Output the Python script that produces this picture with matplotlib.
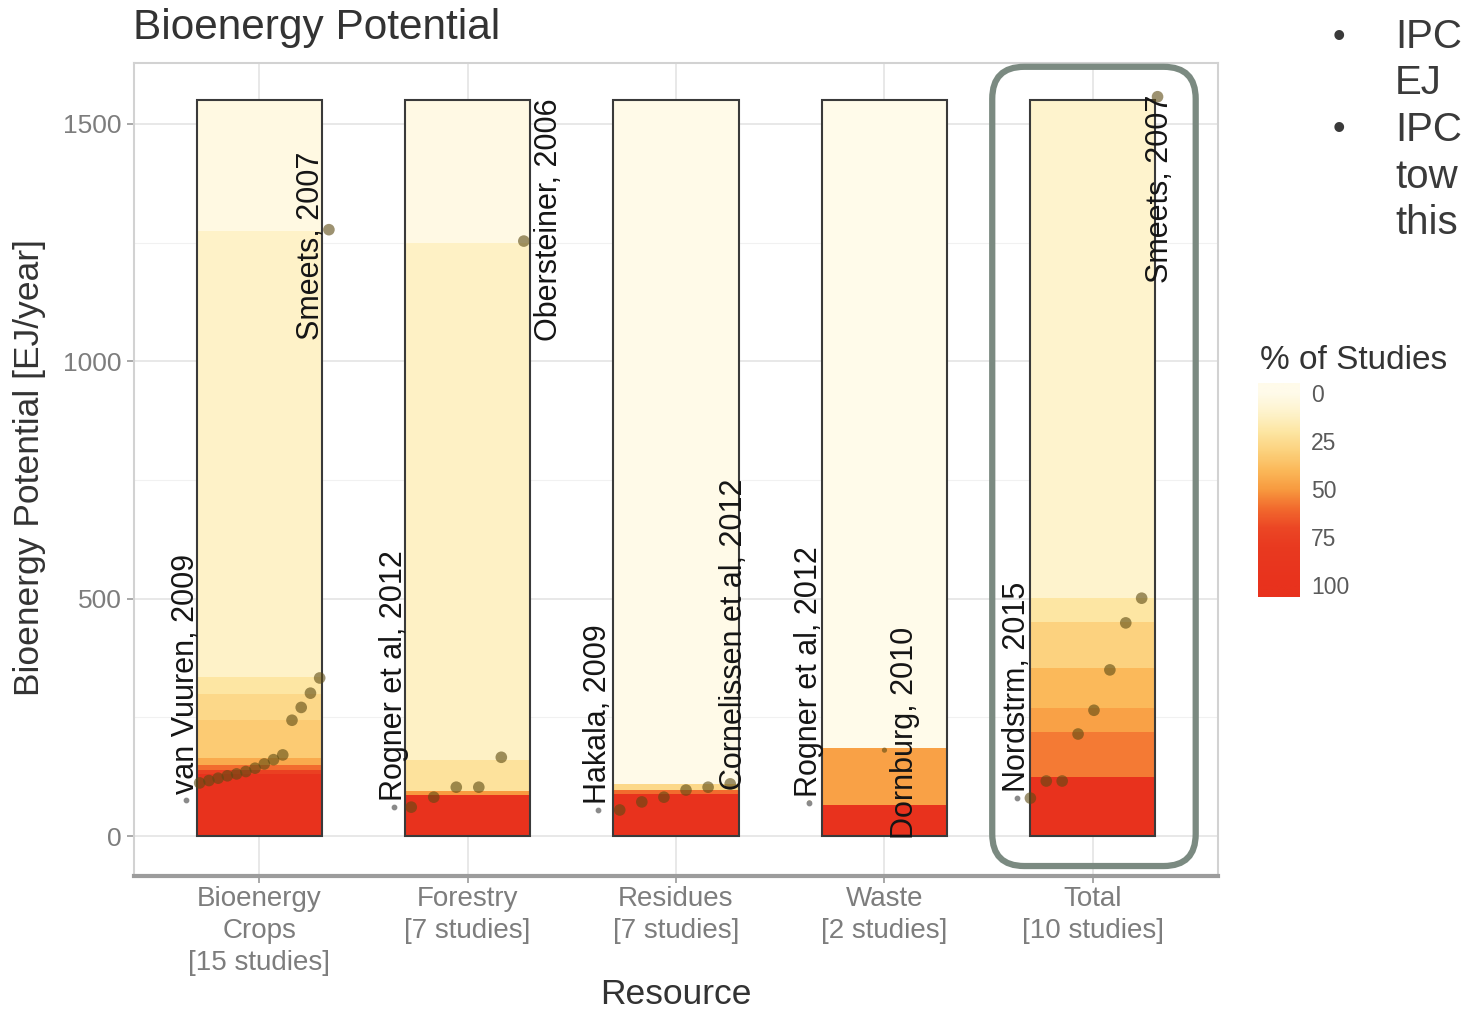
"""Bioenergy potential by resource: share-of-studies bands, study points, min/max labels."""
import matplotlib

matplotlib.use("Agg")

import matplotlib.pyplot as plt  # noqa: E402
import numpy as np  # noqa: E402
from matplotlib.colors import LinearSegmentedColormap  # noqa: E402
from matplotlib.patches import FancyBboxPatch  # noqa: E402
from matplotlib.transforms import IdentityTransform  # noqa: E402

plt.rcParams["font.family"] = ["Liberation Sans", "DejaVu Sans"]

# --- data ----------------------------------------------------------------
resources = ["Bioenergy Crops", "Forestry", "Residues", "Waste", "Total"]
tick_labels = [
    "Bioenergy\nCrops\n[15 studies]",
    "Forestry\n[7 studies]",
    "Residues\n[7 studies]",
    "Waste\n[2 studies]",
    "Total\n[10 studies]",
]

# band edges [EJ/year] and % of studies inside each band
crops_edges = [0, 130, 140, 150, 165, 245, 300, 335, 1275, 1550]
crops_pct = [100, 75, 60, 45, 33, 27, 20, 11, 3]
forestry_edges = [0, 86, 95, 160, 1250, 1550]
forestry_pct = [100, 50, 22, 12, 2]
residues_edges = [0, 88, 98, 110, 1550]
residues_pct = [100, 60, 27, 1]
waste_edges = [0, 65, 185, 1550]
waste_pct = [100, 48, 0]
total_edges = [0, 124, 219, 270, 354, 451, 501, 1550]
total_pct = [100, 57, 48, 40, 30, 20, 10]

# individual study estimates [EJ/year], sorted low -> high
crops_pts = [112, 117, 122, 127, 131, 136, 143, 152, 161, 171, 244, 271, 301, 333, 1277]
forestry_pts = [61, 82, 103, 103, 166, 1253]
residues_pts = [55, 72, 82, 97, 103, 110]
waste_pts = [70, 181]
total_pts = [80, 116, 116, 215, 265, 350, 449, 501, 1557]

min_labels = ["van Vuuren, 2009", "Rogner et al, 2012", "Hakala, 2009",
              "Rogner et al, 2012", "Nordstrm, 2015"]
max_labels = ["Smeets, 2007", "Obersteiner, 2006", "Cornelissen et al, 2012",
              "Dornburg, 2010", "Smeets, 2007"]

legend_ticks = [0, 25, 50, 75, 100]
side_lines = ["IPC", "EJ", "IPC", "tow", "this"]
side_bullets = [True, False, True, False, False]

edges_all = [crops_edges, forestry_edges, residues_edges, waste_edges, total_edges]
pct_all = [crops_pct, forestry_pct, residues_pct, waste_pct, total_pct]
pts_all = [crops_pts, forestry_pts, residues_pts, waste_pts, total_pts]

# --- layout / style ------------------------------------------------------
W, H, DPI = 1465, 1011, 100
BAR_W = 0.6
PT_SPREAD = [(-0.285, 0.335), (-0.27, 0.27), (-0.27, 0.26), (-0.36, 0.0), (-0.30, 0.31)]
PT_SIZE = [70, 70, 70, 14, 70]
# (x offset, y nudge, anchor along rotated text)
MIN_LAB = [(-0.35, -36, "left"), (-0.355, 0, "left"), (-0.375, 0, "left"),
           (-0.36, 0, "left"), (-0.365, 0, "left")]
MAX_LAB = [(0.25, -33, "center"), (0.39, 45, "center"), (0.28, -13, "left"),
           (0.10, 36, "center"), (0.32, 4, "right")]
TICK_GREY = "#7d7d7d"
TEXT_DARK = "#333333"

cmap = LinearSegmentedColormap.from_list("studies", [
    (0.00, "#FFFBEA"), (0.10, "#FEF3CC"), (0.20, "#FDE6A3"), (0.30, "#FCD27E"),
    (0.40, "#FBB95A"), (0.50, "#F89B40"), (0.60, "#F26B2E"), (0.70, "#EC4725"),
    (0.80, "#E93A20"), (1.00, "#E8321D"),
])

fig = plt.figure(figsize=(W / DPI, H / DPI), dpi=DPI)
fig.patch.set_facecolor("white")
ax = fig.add_axes([134 / W, 1 - 876 / H, (1218 - 134) / W, (876 - 63) / H])

xs = np.arange(1, len(resources) + 1)
for i, x in enumerate(xs):
    edges = edges_all[i]
    pct = pct_all[i]
    lo = np.array(edges[:-1])
    hi = np.array(edges[1:])
    ax.bar(np.full(len(lo), x), hi - lo, bottom=lo, width=BAR_W,
           color=[cmap(p / 100) for p in pct], edgecolor="none", zorder=2)
    ax.bar(x, edges[-1], width=BAR_W, fill=False, edgecolor="#3a3a3a",
           linewidth=1.5, zorder=3)

    vals = pts_all[i]
    px = x + np.linspace(PT_SPREAD[i][0], PT_SPREAD[i][1], len(vals))
    ax.scatter(px, vals, s=PT_SIZE[i], color="#5C4A12", alpha=0.6,
               edgecolors="none", zorder=4)

    dx, dy, anchor = MIN_LAB[i]
    y0 = min(vals) + dy
    ax.scatter([x + dx], [y0], s=10, color="#8a8a8a", zorder=5)
    ax.text(x + dx, y0 + 12, min_labels[i], rotation=90, rotation_mode="anchor",
            ha=anchor, va="center", fontsize=22, color="#151515", zorder=6)

    dx, dy, anchor = MAX_LAB[i]
    ax.text(x + dx, max(vals) + dy, max_labels[i], rotation=90,
            rotation_mode="anchor", ha=anchor, va="center", fontsize=22,
            color="#151515", zorder=6)

ax.set_xlim(0.4, 5.6)
ax.set_ylim(-84, 1628)
ax.set_xticks(xs)
ax.set_xticklabels(tick_labels, fontsize=20, color=TICK_GREY, linespacing=1.3)
ax.set_yticks([0, 500, 1000, 1500])
ax.set_yticklabels(["0", "500", "1000", "1500"], fontsize=19, color=TICK_GREY)
ax.set_yticks([250, 750, 1250], minor=True)
ax.tick_params(axis="y", which="major", length=5, width=1.2, color="#9a9a9a", pad=4)
ax.tick_params(axis="y", which="minor", length=0)
ax.tick_params(axis="x", length=5, width=1.2, color="#9a9a9a", pad=2)
ax.set_axisbelow(True)
ax.grid(which="major", color="#E6E6E6", linewidth=1.3, zorder=0)
ax.grid(which="minor", axis="y", color="#F1F1F1", linewidth=0.8, zorder=0)
for side in ("top", "right", "left"):
    ax.spines[side].set_color("#D2D2D2")
    ax.spines[side].set_linewidth(1.5)
ax.spines["bottom"].set_color("#9C9C9C")
ax.spines["bottom"].set_linewidth(3)

# titles
fig.text(133 / W, 1 - 28 / H, "Bioenergy Potential", fontsize=30.5,
         color=TEXT_DARK, ha="left", va="center")
fig.text(30 / W, 1 - 468 / H, "Bioenergy Potential [EJ/year]", fontsize=25.5,
         color=TEXT_DARK, rotation=90, ha="center", va="center")
fig.text(676 / W, 1 - 995 / H, "Resource", fontsize=25.5, color=TEXT_DARK,
         ha="center", va="center")

# highlight round the Total column
fig.canvas.draw()
i_tot = resources.index("Total") + 1
(bx0, by0) = ax.transData.transform((i_tot - 0.483, -63))
(bx1, by1) = ax.transData.transform((i_tot + 0.493, 1620))
box = FancyBboxPatch((bx0, by0), bx1 - bx0, by1 - by0,
                     boxstyle="round,pad=0,rounding_size=32",
                     fill=False, edgecolor="#7B8A81", linewidth=4.5,
                     transform=IdentityTransform(), zorder=10)
fig.add_artist(box)

# colour legend
cax = fig.add_axes([1258 / W, 1 - 597 / H, 42 / W, 214 / H])
grad = np.clip(np.linspace(-5, 106, 300), 0, 100)
cax.imshow(grad[:, None], aspect="auto", cmap=cmap, vmin=0, vmax=100,
           extent=(0, 1, 106, -5))
cax.set_ylim(106, -5)
cax.set_xticks([])
cax.yaxis.tick_right()
cax.set_yticks(legend_ticks)
cax.set_yticklabels([str(t) for t in legend_ticks], fontsize=16.5, color="#5a5a5a")
cax.tick_params(axis="y", length=0, pad=8)
for sp in cax.spines.values():
    sp.set_visible(False)
fig.text(1260 / W, 1 - 360 / H, "% of Studies", fontsize=24, color=TEXT_DARK,
         ha="left", va="center")

# clipped slide text on the right
for k, (line, bullet) in enumerate(zip(side_lines, side_bullets)):
    yy = 1 - (37 + 46.5 * k) / H
    if bullet:
        fig.text(1333 / W, yy, "\u2022", fontsize=26, color="#3a3a3a",
                 ha="left", va="center")
    fig.text(1395 / W, yy, line, fontsize=29, color="#3a3a3a",
             ha="left", va="center")

fig.savefig("out.png", dpi=DPI)
